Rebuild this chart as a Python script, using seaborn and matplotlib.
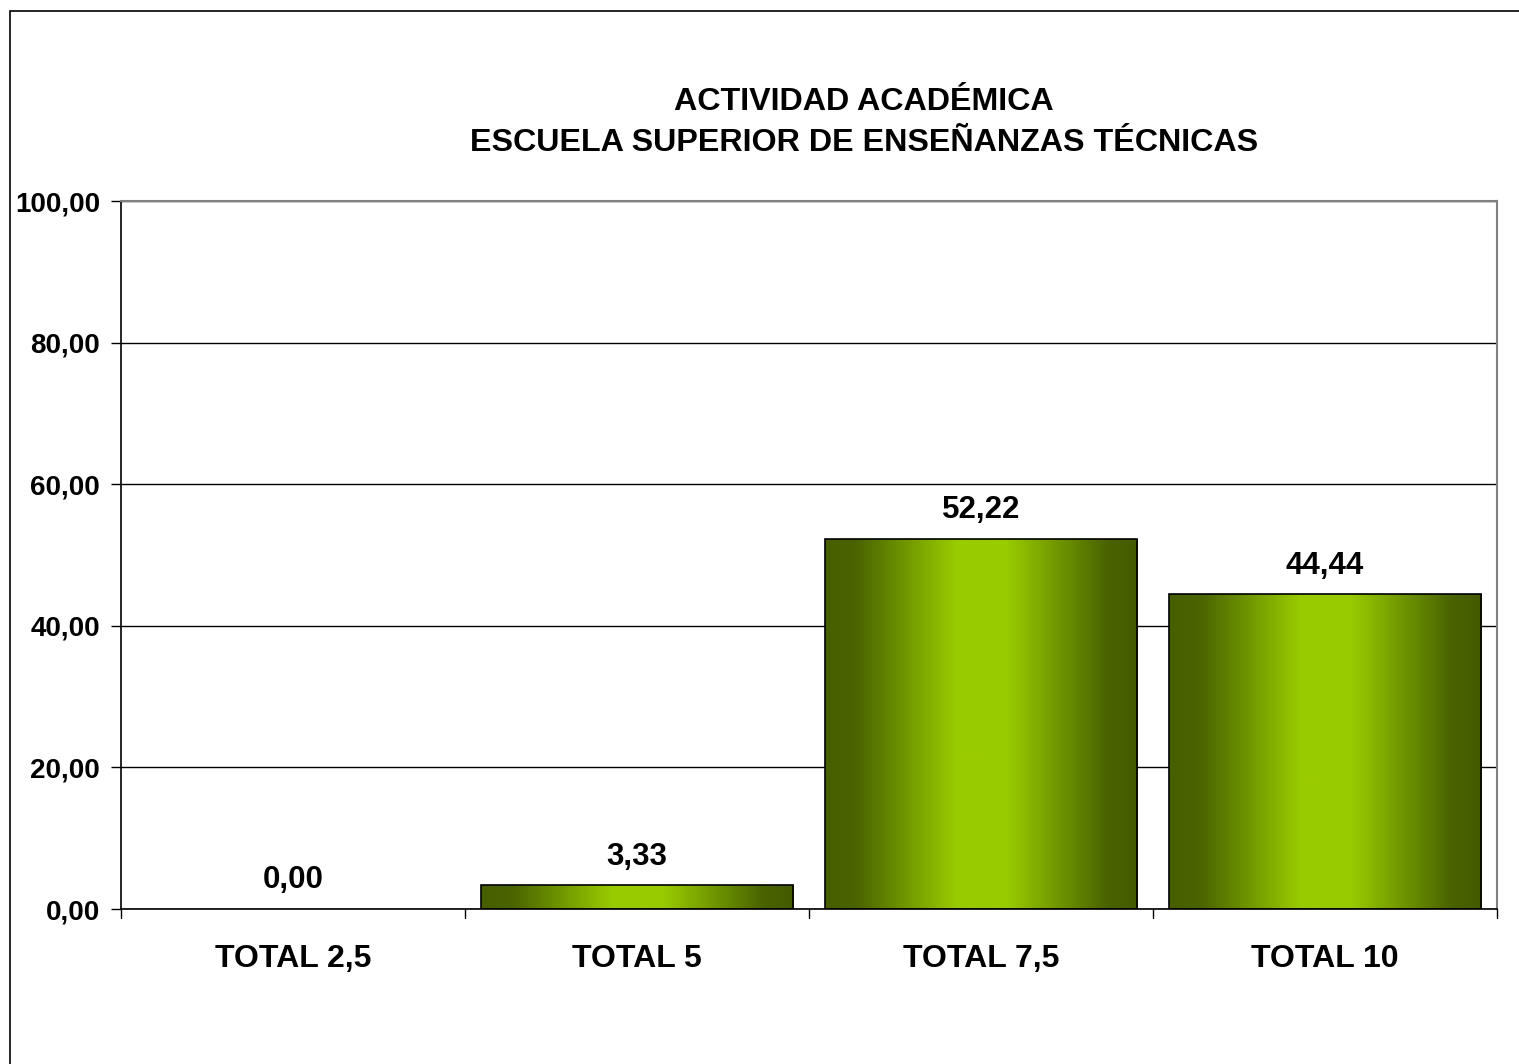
import numpy as np
import pandas as pd
import matplotlib
matplotlib.use("Agg")
import matplotlib.pyplot as plt
import seaborn as sns
from matplotlib.colors import LinearSegmentedColormap
from matplotlib.patches import Rectangle

categories = ["TOTAL 2,5", "TOTAL 5", "TOTAL 7,5", "TOTAL 10"]
values = [0.00, 3.33, 52.22, 44.44]
yticks = [0, 20, 40, 60, 80, 100]
title_lines = ["ACTIVIDAD ACADÉMICA", "ESCUELA SUPERIOR DE ENSEÑANZAS TÉCNICAS"]

sns.set_theme(style="white")
plt.rcParams['font.family'] = ['Liberation Sans', 'DejaVu Sans']
plt.rcParams['text.color'] = 'black'
plt.rcParams['xtick.color'] = 'black'
plt.rcParams['ytick.color'] = 'black'
plt.rcParams['xtick.labelcolor'] = 'black'
plt.rcParams['ytick.labelcolor'] = 'black'

fig = plt.figure(figsize=(15.19, 10.64), dpi=100)
W, H = 1519, 1064
ax = fig.add_axes([121 / W, 1 - 909 / H, (1497 - 121) / W, (909 - 201) / H])

df = pd.DataFrame({"cat": categories, "val": values})
sns.barplot(data=df, x="cat", y="val", ax=ax, width=0.907, color="#99cc00",
            edgecolor="black", linewidth=1.2, zorder=3)

cmap = LinearSegmentedColormap.from_list(
    "g", [(0.0, "#485f00"), (0.1, "#4a6400"), (0.42, "#99cc00"),
          (0.58, "#99cc00"), (0.9, "#4a6400"), (1.0, "#445a00")])
grad = np.linspace(0, 1, 256).reshape(1, -1)
for p in ax.patches:
    x0, y0 = p.get_x(), p.get_y()
    w, h = p.get_width(), p.get_height()
    if h <= 0:
        p.set_visible(False)
        continue
    p.set_facecolor("none")
    im = ax.imshow(grad, cmap=cmap, aspect="auto", extent=[x0, x0 + w, y0, y0 + h],
                   zorder=2.5, interpolation="bicubic")
    im.set_clip_path(p)

for i, v in enumerate(values):
    ax.annotate(f"{v:.2f}".replace(".", ","), xy=(i, v), xytext=(0, 15),
                textcoords="offset points", ha="center", va="baseline",
                fontsize=22.5, fontweight="bold", color="black", zorder=4)

ax.set_xlim(-0.5, len(categories) - 0.5)
ax.set_ylim(0, 100)
ax.set_yticks(yticks)
ax.set_yticklabels([f"{t:.2f}".replace(".", ",") for t in yticks], fontsize=20,
                   fontweight="bold", color="black")
ax.set_xticks(range(len(categories)))
ax.set_xticklabels(categories, fontsize=23, fontweight="bold", color="black")
for lab in ax.get_xticklabels():
    lab.set_va("baseline")
ax.tick_params(axis="x", length=0, pad=41.5)
ax.tick_params(axis="y", length=7, width=1, direction="out", color="black", left=True, pad=8)
for xb in np.arange(-0.5, len(categories), 1.0):
    ax.plot([xb, xb], [0, -1.3], color="black", lw=1, clip_on=False, zorder=5)
ax.set_xlabel("")
ax.set_ylabel("")

ax.grid(axis="y", color="black", lw=1, zorder=0)
ax.set_axisbelow(True)
for s in ["top", "right"]:
    ax.spines[s].set_color("#808080")
    ax.spines[s].set_linewidth(1.5)
for s in ["left", "bottom"]:
    ax.spines[s].set_color("black")
    ax.spines[s].set_linewidth(1.2)
    ax.spines[s].set_visible(True)

fig.text(864 / W, 1 - 110 / H, title_lines[0], ha="center", va="baseline", fontsize=23.2,
         fontweight="bold", color="black")
fig.text(864 / W, 1 - 151 / H, title_lines[1], ha="center", va="baseline", fontsize=23.2,
         fontweight="bold", color="black")

fig.patches.append(Rectangle((10 / W, -1), 2, 2 - 11 / H, transform=fig.transFigure,
                             fill=False, edgecolor="black", lw=1.2))

fig.savefig("out.png", dpi=100, facecolor="white")
